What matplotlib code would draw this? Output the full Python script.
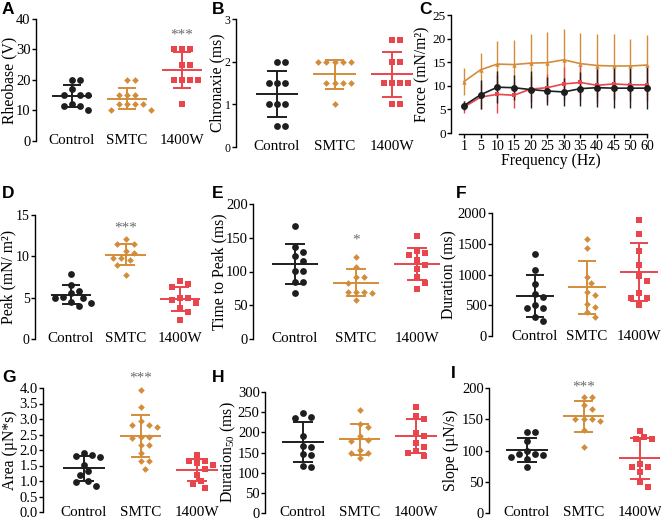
import numpy as np
import matplotlib.pyplot as plt
from matplotlib import transforms

plt.rcParams['font.family'] = 'Liberation Serif'
plt.rcParams['mathtext.fontset'] = 'custom'
plt.rcParams['mathtext.rm'] = 'Liberation Serif'
plt.rcParams['mathtext.it'] = 'Liberation Serif:italic'
plt.rcParams['mathtext.bf'] = 'Liberation Serif:bold'

W, H = 661, 520

# groups
groups = ['Control', 'SMTC', '1400W']

# A - rheobase (V)
rheo_control = [20, 20, 17, 15, 15, 15, 12, 11.5, 11.5, 10]
rheo_smtc = [20, 20, 15, 15, 15, 12, 12, 12, 12, 10, 10]
rheo_1400w = [30, 30, 30, 25, 25, 20, 20, 20, 20, 12]

# B - chronaxie (ms)
chron_control = [2, 2, 1.5, 1.5, 1.5, 1, 1, 1, 0.5, 0.5]
chron_smtc = [2, 2, 2, 2, 2, 1.5, 1.5, 1.5, 1.5, 1]
chron_1400w = [2.5, 2.5, 2, 2, 1.5, 1.5, 1.5, 1.5, 1, 1]

# C - force vs frequency (mean, SD)
freq_labels = ['1', '5', '10', '15', '20', '25', '30', '35', '40', '45', '50', '60']
force_control = [5.8, 8.1, 9.7, 9.6, 9.2, 8.9, 8.7, 9.4, 9.6, 9.5, 9.5, 9.5]
force_control_sd = [1.0, 3.1, 3.4, 2.6, 3.9, 2.9, 2.9, 3.6, 4.0, 4.3, 4.2, 4.4]
force_smtc = [10.9, 13.4, 14.6, 14.5, 14.8, 14.9, 15.5, 14.7, 14.3, 14.2, 14.2, 14.4]
force_smtc_sd = [2.8, 3.5, 4.8, 5.2, 6.2, 6.4, 6.5, 6.4, 6.7, 6.7, 5.7, 6.4]
force_1400w = [5.5, 7.6, 8.2, 8.0, 9.3, 9.6, 10.4, 10.7, 10.1, 10.4, 10.2, 10.2]
force_1400w_sd = [1.2, 2.5, 4.0, 2.6, 2.8, 3.0, 3.5, 3.8, 3.8, 3.5, 3.5, 3.5]

# D - peak (mN/m2)
peak_control = [7.9, 6.5, 5.8, 5.6, 5.1, 5.0, 4.9, 4.5, 4.3, 4.0]
peak_smtc = [12.1, 11.5, 11.5, 10.6, 10.4, 9.8, 9.8, 9.6, 9.0, 7.8]
peak_1400w = [7.0, 6.6, 6.3, 4.9, 4.9, 4.7, 4.4, 3.8, 3.3, 2.3]

# E - time to peak (ms)
ttp_control = [168, 136, 129, 123, 116, 101, 101, 85, 84, 68]
ttp_smtc = [122, 107, 92, 92, 83, 70, 70, 69, 68, 58]
ttp_1400w = [153, 130, 128, 125, 117, 109, 103, 92, 83, 74]

# F - duration (ms)
dur_control = [1330, 1073, 840, 690, 630, 500, 460, 450, 310, 245]
dur_smtc = [1575, 1433, 964, 856, 714, 659, 518, 474, 392, 311]
dur_1400w = [1891, 1657, 1384, 1155, 975, 894, 692, 610, 610, 512]

# G - area (uN*s)
area_control = [1.90, 1.84, 1.80, 1.78, 1.51, 1.31, 1.18, 1.00, 0.98, 0.83]
area_smtc = [3.95, 3.39, 2.95, 2.82, 2.82, 2.74, 2.42, 2.42, 2.40, 2.17,
             2.17, 1.90, 1.63, 1.63, 1.40]
area_1400w = [1.85, 1.66, 1.66, 1.58, 1.53, 1.39, 1.20, 0.99, 0.91, 0.77]

# H - duration50 (ms)
d50_control = [248, 237, 235, 190, 166, 164, 147, 145, 117, 113]
d50_smtc = [256, 220, 212, 191, 181, 178, 156, 148, 148, 136]
d50_1400w = [263, 240, 233, 199, 190, 173, 163, 154, 150, 141]

# I - slope (uN/s)
slope_control = [130, 130, 116, 100, 94, 94, 93, 90, 86, 74]
slope_smtc = [185, 185, 173, 167, 151, 150, 150, 148, 133, 105]
slope_1400w = [132, 122, 119, 119, 78, 73, 73, 65, 50, 42]

colors = {'Control': '#1e1e1e', 'SMTC': '#D38D3A', '1400W': '#E8454C'}
markers = {'Control': ('o', 4.9), 'SMTC': ('D', 3.4), '1400W': ('s', 4.4)}
star_color = '#6a6a6a'


def make_axes(fig, x0, x1, ytop, ybot):
    return fig.add_axes([x0 / W, 1 - ybot / H, (x1 - x0) / W, (ybot - ytop) / H])


def swarm(vals, ppu, d):
    # simple beeswarm, offsets in pixels
    ys = np.asarray(vals, dtype=float) * ppu
    offs = np.zeros(len(ys))
    placed = []
    step = d * 0.55
    for i in np.argsort(-ys):
        k = 0
        while True:
            cands = [0.0] if k == 0 else [k * step, -k * step]
            ok = None
            for c in cands:
                if all((c - px) ** 2 + (ys[i] - py) ** 2 >= d * d for px, py in placed):
                    ok = c
                    break
            if ok is not None:
                offs[i] = ok
                placed.append((ok, ys[i]))
                break
            k += 1
    return offs


def label_y(fig, ax, text, xpix, size=11.3):
    ax.set_ylabel(text, fontsize=size, va='center')
    tr = transforms.blended_transform_factory(fig.transFigure, ax.transAxes)
    ax.yaxis.set_label_coords(xpix / W, 0.5, transform=tr)


def letter(fig, x, y, s):
    fig.text(x / W, 1 - y / H, s, fontsize=12.5, fontweight='bold',
             family='Liberation Sans', va='top', ha='left')


def strip_panel(fig, box, ylim, yticks, yticklabels, ylabel, ylab_x, data,
                stars=None, ticksize=10.5, labsize=11.3):
    x0, x1, ytop, ybot, c0, sp = box
    ax = make_axes(fig, x0, x1, ytop, ybot)
    xl = -(c0 - x0) / sp
    ax.set_xlim(xl, xl + (x1 - x0) / sp)
    ax.set_ylim(*ylim)
    ppu = (ybot - ytop) / (ylim[1] - ylim[0])
    for i, (g, vals) in enumerate(zip(groups, data)):
        vals = np.asarray(vals, dtype=float)
        col = colors[g]
        m, ms = markers[g]
        offs = swarm(vals, ppu, 7.4) / sp
        ax.plot(i + offs, vals, linestyle='none', marker=m, ms=ms, color=col,
                mew=0, clip_on=False, zorder=3)
        mean = vals.mean()
        sd = vals.std(ddof=1)
        ax.hlines(mean, i - 0.37, i + 0.37, color=col, lw=1.4, zorder=4)
        ax.vlines(i, mean - sd, mean + sd, color=col, lw=1.4, zorder=4)
        ax.hlines([mean - sd, mean + sd], i - 0.17, i + 0.17, color=col, lw=1.4,
                  zorder=4)
        ax.text(i, ylim[0], g, ha='center', va='center', fontsize=10.9,
                clip_on=False)
    if stars is not None:
        gi, yv, s = stars
        ax.annotate(s, (gi, yv), xytext=(0, -2.5), textcoords='offset points',
                    ha='center', va='center', fontsize=11, color=star_color,
                    annotation_clip=False)
    for k in ['top', 'right', 'bottom']:
        ax.spines[k].set_visible(False)
    ax.spines['left'].set_linewidth(1.0)
    ax.set_xticks([])
    ax.set_yticks(yticks)
    ax.set_yticklabels(yticklabels)
    ax.tick_params(axis='y', length=3, width=1.0, labelsize=ticksize, pad=0.8)
    label_y(fig, ax, ylabel, ylab_x, labsize)
    return ax


fig = plt.figure(figsize=(W / 100, H / 100), dpi=100)

# A
strip_panel(fig, (36, 210, 19, 141, 72, 55), (0, 40), [0, 10, 20, 30, 40],
            ['0', '10', '20', '30', '40'], 'Rheobase (V)', 9,
            [rheo_control, rheo_smtc, rheo_1400w], stars=(2, 35.8, '***'))
# B
strip_panel(fig, (236, 420, 19, 147, 277, 57.5), (0, 3), [0, 1, 2, 3],
            ['0', '1', '2', '3'], 'Chronaxie (ms)', 217,
            [chron_control, chron_smtc, chron_1400w], ticksize=8.5)

# C - line chart
axc = make_axes(fig, 451, 650, 15, 133)
xs = np.arange(len(freq_labels))
sp_c = (647 - 464) / (len(freq_labels) - 1)
xl = -(464 - 451) / sp_c
axc.set_xlim(xl, xl + (650 - 451) / sp_c)
axc.set_ylim(0, 25)
for g, mean, sd, m, ms in [('SMTC', force_smtc, force_smtc_sd, '^', 3.2),
                           ('1400W', force_1400w, force_1400w_sd, 's', 3.2),
                           ('Control', force_control, force_control_sd, 'o', 5.0)]:
    col = colors[g]
    axc.errorbar(xs, mean, yerr=sd, color=col, marker=m, ms=ms, mew=0, lw=1.2,
                 elinewidth=1.0, capsize=2.8, capthick=1.0, clip_on=False)
for k in ['top', 'right']:
    axc.spines[k].set_visible(False)
axc.spines['left'].set_linewidth(1.0)
axc.spines['bottom'].set_linewidth(1.0)
axc.spines['bottom'].set_bounds(-0.3, len(freq_labels) - 1)
axc.spines['bottom'].set_position(('outward', 1))
axc.set_xticks(xs)
axc.set_xticklabels(freq_labels)
axc.set_yticks([0, 5, 10, 15, 20, 25])
axc.tick_params(axis='x', length=3, width=1.0, labelsize=10, pad=0.8)
axc.tick_params(axis='y', length=3, width=1.0, labelsize=9.5, pad=0.8)
axc.set_xlabel('Frequency (Hz)', fontsize=11.3, labelpad=0)
label_y(fig, axc, 'Force (mN/m²)', 422, 11.3)

# D
strip_panel(fig, (35, 205, 215, 339, 71, 54.5), (0, 15), [0, 5, 10, 15],
            ['0', '5', '10', '15'], 'Peak (mN/ m²)', 8.5,
            [peak_control, peak_smtc, peak_1400w], stars=(1, 13.8, '***'),
            ticksize=10, labsize=11.3)
# E
strip_panel(fig, (253, 440, 204, 339, 295, 61), (0, 200),
            [0, 50, 100, 150, 200], ['0', '50', '100', '150', '200'],
            'Time to Peak (ms)', 219, [ttp_control, ttp_smtc, ttp_1400w],
            stars=(1, 152, '*'))
# F
strip_panel(fig, (492, 660, 213, 336, 535, 52), (0, 2000),
            [0, 500, 1000, 1500, 2000], ['0', '500', '1000', '1500', '2000'],
            'Duration (ms)', 449, [dur_control, dur_smtc, dur_1400w])
# G
strip_panel(fig, (43, 220, 388, 512, 84, 56.5), (0, 4),
            np.arange(0, 4.01, 0.5),
            ['0.0', '0.5', '1.0', '1.5', '2.0', '2.5', '3.0', '3.5', '4.0'],
            'Area (µN*s)', 10, [area_control, area_smtc, area_1400w],
            stars=(1, 4.43, '***'))
# H
strip_panel(fig, (265, 440, 392, 513, 303, 56.5), (0, 300),
            [0, 50, 100, 150, 200, 250, 300],
            ['0', '50', '100', '150', '200', '250', '300'],
            'Duration$_{50}$ (ms)', 228, [d50_control, d50_smtc, d50_1400w])
# I
strip_panel(fig, (489, 660, 388, 513, 527, 56.5), (0, 200),
            [0, 50, 100, 150, 200], ['0', '50', '100', '150', '200'],
            'Slope (µN/s)', 451, [slope_control, slope_smtc, slope_1400w],
            stars=(1, 207, '***'))

letter(fig, 2, 2, 'A')
letter(fig, 212, 2, 'B')
letter(fig, 419, 2, 'C')
letter(fig, 2, 186, 'D')
letter(fig, 212, 186, 'E')
letter(fig, 456, 186, 'F')
letter(fig, 2, 370, 'G')
letter(fig, 212, 370, 'H')
letter(fig, 451, 366, 'I')

fig.savefig('out.png', dpi=100)
